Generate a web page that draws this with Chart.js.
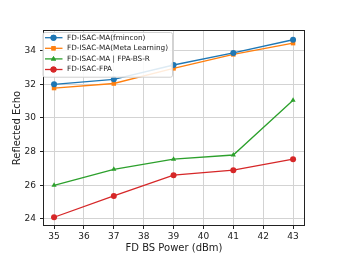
<!DOCTYPE html>
<html>
<head>
<meta charset="utf-8">
<script src="https://cdn.jsdelivr.net/npm/chart.js@4.4.0/dist/chart.umd.min.js"></script>
<style>
  html, body { margin: 0; padding: 0; background: #fff; }
  #wrap { width: 339px; height: 254px; }
</style>
</head>
<body>
<div id="wrap"><canvas id="chart" width="339" height="254"></canvas></div>
<script>
// x values (dBm) and the four series
var power = [35, 37, 39, 41, 43];
var fmincon = [32.0, 32.3, 33.15, 33.87, 34.65];
var metaLearning = [31.78, 32.05, 32.95, 33.78, 34.45];
var fpaBsR = [26.0, 26.95, 27.55, 27.8, 31.05];
var fpa = [24.1, 25.37, 26.6, 26.9, 27.55];
var xTicks = [35, 36, 37, 38, 39, 40, 41, 42, 43];
var yTicks = [24, 26, 28, 30, 32, 34];

var names = ['FD-ISAC-MA(fmincon)', 'FD-ISAC-MA(Meta Learning)', 'FD-ISAC-MA | FPA-BS-R', 'FD-ISAC-FPA'];
var colors = ['#1f77b4', '#ff7f0e', '#2ca02c', '#d62728'];
var shapes = ['circle', 'rect', 'triangle', 'circle'];
var series = [fmincon, metaLearning, fpaBsR, fpa];

let pts = (ys) => power.map((x, i) => ({ x: x, y: ys[i] }));

let datasets = series.map((ys, i) => ({
    label: names[i],
    data: pts(ys),
    borderColor: colors[i],
    backgroundColor: colors[i],
    borderWidth: 1.3,
    pointStyle: shapes[i],
    pointRadius: shapes[i] == 'rect' ? 3.2 : 3,
    pointBorderWidth: 0,
    tension: 0
}));

// frame round the plot area plus the boxed legend in the top-left corner
let frameAndLegend = {
    id: 'frameAndLegend',
    afterDraw(chart) {
        let c = chart.ctx, a = chart.chartArea;
        c.save();
        c.strokeStyle = '#222';
        c.lineWidth = 1;
        c.strokeRect(a.left + 0.5, a.top + 0.5, a.right - a.left - 1, a.bottom - a.top - 1);

        let x0 = a.left - 0.5, y0 = a.top + 2, rowH = 10.6;
        c.font = '7.3px "DejaVu Sans"';
        let w = 0;
        names.forEach(n => { w = Math.max(w, c.measureText(n).width); });
        let textX = x0 + 24.5;
        let boxW = textX + w + 4 - x0, boxH = 44.7;
        c.fillStyle = 'rgba(255,255,255,0.85)';
        c.strokeStyle = '#d0d0d0';
        c.beginPath();
        c.roundRect(x0 + 0.5, y0 + 0.5, boxW, boxH, 2);
        c.fill();
        c.stroke();
        names.forEach((n, i) => {
            let yy = y0 + 5.7 + rowH * i;
            c.strokeStyle = colors[i];
            c.lineWidth = 1.3;
            c.beginPath();
            c.moveTo(x0 + 2.5, yy);
            c.lineTo(x0 + 20, yy);
            c.stroke();
            c.fillStyle = colors[i];
            Chart.helpers.drawPoint(c, { pointStyle: shapes[i], radius: 3, rotation: 0, borderWidth: 0 }, x0 + 11, yy);
            c.fill();
            c.fillStyle = '#222';
            c.textBaseline = 'middle';
            c.fillText(n, textX, yy);
        });
        c.restore();
    }
};

let ctx = document.getElementById('chart');
new Chart(ctx, {
    type: 'line',
    data: { datasets: datasets },
    options: {
        responsive: false,
        animation: false,
        layout: { padding: { top: 30, right: 34, left: 0, bottom: 0 } },
        plugins: { legend: { display: false }, tooltip: { enabled: false } },
        scales: {
            x: {
                type: 'linear',
                min: 34.63,
                max: 43.4,
                afterBuildTicks: (s) => { s.ticks = xTicks.map(v => ({ value: v })); },
                afterFit: (s) => { s.height = 28; },
                ticks: { color: '#222', font: { family: 'DejaVu Sans', size: 9 }, padding: 2, maxRotation: 0 },
                grid: { color: '#d3d3d3', lineWidth: 1, tickLength: 3, tickColor: '#222' },
                border: { display: false },
                title: { display: true, text: 'FD BS Power (dBm)', color: '#222', font: { family: 'DejaVu Sans', size: 10 }, padding: { top: 0, bottom: 0 } }
            },
            y: {
                type: 'linear',
                min: 23.58,
                max: 35.23,
                afterBuildTicks: (s) => { s.ticks = yTicks.map(v => ({ value: v })); },
                afterFit: (s) => { s.width = 43; },
                ticks: { color: '#222', font: { family: 'DejaVu Sans', size: 9 }, padding: 4 },
                grid: { color: '#d3d3d3', lineWidth: 1, tickLength: 3, tickColor: '#222' },
                border: { display: false },
                title: { display: true, text: 'Reflected Echo', color: '#222', font: { family: 'DejaVu Sans', size: 10 }, padding: { top: 11, bottom: 0 } }
            }
        }
    },
    plugins: [frameAndLegend]
});
</script>
</body>
</html>
